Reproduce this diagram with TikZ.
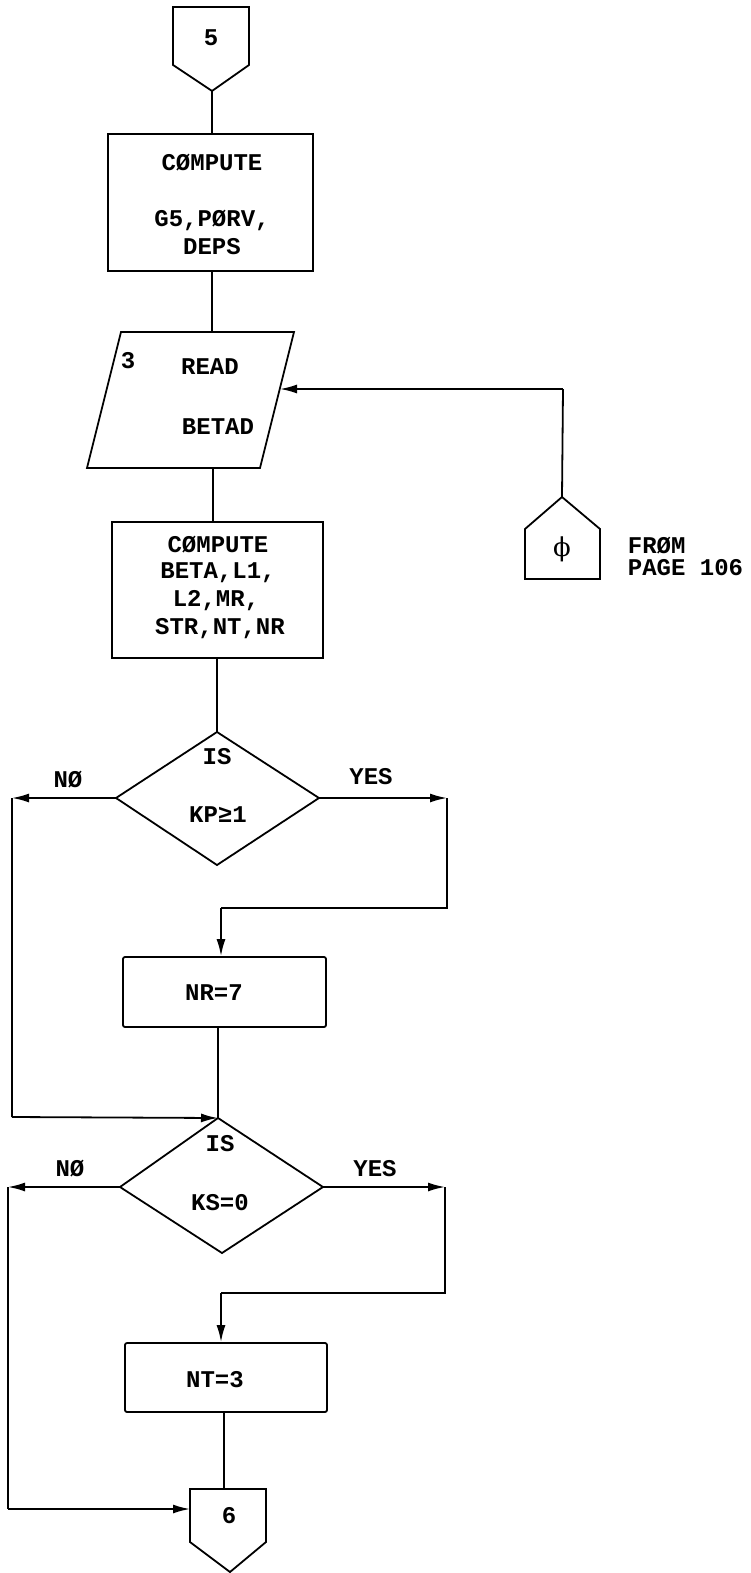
\documentclass[tikz,border=0pt]{standalone}
\usepackage{fontspec}
\usetikzlibrary{arrows.meta}
\newfontfamily\typew{Liberation Mono}[BoldFont={Liberation Mono Bold}]
\newfontfamily\dvs{DejaVu Serif}
\begin{document}
\begin{tikzpicture}[x=1pt,y=-1pt,
  line width=1.8pt, line join=miter,
  txt/.style={font=\typew\bfseries\fontsize{24}{26}\selectfont, inner sep=0pt},
  arr/.style={-{Latex[length=17pt,width=9pt]}},
  box/.style={draw, line width=1.8pt}]
\useasboundingbox (0,0) rectangle (750,1573);
\fill[white] (0,0) rectangle (750,1573);

% connector 5
\coordinate (c5tl) at (173,7);
\coordinate (c5tr) at (249,7);
\coordinate (c5b) at (212,91);
\draw (c5tl) -- (c5tr) -- (249,65) -- (c5b) -- (173,65) -- cycle;
\node[txt] (t5) at (211,38) {5};

% compute box 1
\node[box, minimum width=205pt, minimum height=137pt, inner sep=0pt] (b1) at (210.5,202.5) {};
\node[txt] (b1a) at (212,163) {CØMPUTE};
\node[txt] (b1b) at (212,220) {G5,PØRV,};
\node[txt] (b1c) at (212,247) {DEPS};
\draw (c5b) -- (c5b |- b1.north);

% read parallelogram
\coordinate (pTL) at (121,332);
\coordinate (pTR) at (294,332);
\coordinate (pBR) at (260,468);
\coordinate (pBL) at (87,468);
\draw (pTL) -- (pTR) -- (pBR) -- (pBL) -- cycle;
\coordinate (pin) at (280,389);
\coordinate (ptop) at (212,332);
\coordinate (pbot) at (213,468);
\draw (b1.south -| ptop) -- (ptop);
\node[txt] (r3) at (128,361) {3};
\node[txt] (r1) at (210,367) {READ};
\node[txt] (r2) at (218,427) {BETAD};

% phi connector
\coordinate (phTop) at (562,497);
\draw (525,529) -- (phTop) -- (600,529) -- (600,579) -- (525,579) -- cycle;
\node[font=\dvs\fontsize{26}{28}\selectfont, inner sep=0pt] (phi) at (562,549) {ϕ};
\node[txt, anchor=west] (from1) at (627,546) {FRØM};
\node[txt, anchor=west] (from2) at (627,568) {PAGE 106};
\coordinate (phc) at (563,389);
\draw (phTop) -- (phc);
\draw[arr] (phc) -- (pin);

% compute box 2
\node[box, minimum width=211pt, minimum height=136pt, inner sep=0pt] (b2) at (217.5,590) {};
\node[txt] (b2a) at (218,545) {CØMPUTE};
\node[txt] (b2b) at (218,573) {BETA,L1,};
\node[txt] (b2c) at (216,601) {L2,MR,};
\node[txt] (b2d) at (220,629) {STR,NT,NR};
\draw (pbot) -- (pbot |- b2.north);

% diamond 1
\coordinate (d1t) at (217,732);
\coordinate (d1r) at (319,798);
\coordinate (d1b) at (217,865);
\coordinate (d1l) at (116,798);
\draw (d1t) -- (d1r) -- (d1b) -- (d1l) -- cycle;
\node[txt] (d1a) at (217,757) {IS};
\node[txt] (d1c) at (218,815) {KP≥1};
\draw (b2.south -| d1t) -- (d1t);
\node[txt] (no1) at (68,780) {NØ};
\node[txt] (yes1) at (371,777) {YES};

% NR=7 box
\node[box, rounded corners=2pt, minimum width=203pt, minimum height=70pt, inner sep=0pt] (b3) at (224.5,992) {};
\node[txt] (b3t) at (214,993) {NR=7};

% yes 1 route
\coordinate (y1a) at (447,798);
\coordinate (y1b) at (447,908);
\coordinate (y1c) at (221,908);
\draw[arr] (d1r) -- (y1a);
\draw (y1a) -- (y1b) -- (y1c);
\draw[arr] (y1c) -- (y1c |- b3.north);

% diamond 2
\coordinate (d2t) at (218,1118);
\coordinate (d2r) at (323,1187);
\coordinate (d2b) at (222,1253);
\coordinate (d2l) at (120,1187);
\draw (d2t) -- (d2r) -- (d2b) -- (d2l) -- cycle;
\node[txt] (d2a) at (220,1144) {IS};
\node[txt] (d2c) at (220,1203) {KS=0};
\node[txt] (no2) at (70,1169) {NØ};
\node[txt] (yes2) at (375,1169) {YES};
\draw (b3.south -| d2t) -- (d2t);

% no 1 route
\coordinate (n1a) at (12,798);
\coordinate (n1b) at (12,1117);
\draw[arr] (d1l) -- (n1a);
\draw (n1a) -- (n1b);
\draw[arr] (n1b) -- (d2t);

% NT=3 box
\node[box, rounded corners=2pt, minimum width=202pt, minimum height=69pt, inner sep=0pt] (b4) at (226,1377.5) {};
\node[txt] (b4t) at (215,1380) {NT=3};

% yes 2 route
\coordinate (y2a) at (445,1187);
\coordinate (y2b) at (445,1293);
\coordinate (y2c) at (221,1293);
\draw[arr] (d2r) -- (y2a);
\draw (y2a) -- (y2b) -- (y2c);
\draw[arr] (y2c) -- (y2c |- b4.north);

% connector 6
\coordinate (c6tl) at (190,1489);
\coordinate (c6tr) at (266,1489);
\coordinate (c6in) at (190,1509);
\draw (c6tl) -- (c6tr) -- (266,1542) -- (230,1572) -- (190,1542) -- cycle;
\node[txt] (t6) at (229,1516) {6};
\coordinate (c6top) at (224,1489);
\draw (b4.south -| c6top) -- (c6top);

% no 2 route
\coordinate (n2a) at (8,1187);
\coordinate (n2b) at (8,1509);
\draw[arr] (d2l) -- (n2a);
\draw (n2a) -- (n2b);
\draw[arr] (n2b) -- (c6in);
\end{tikzpicture}
\end{document}
